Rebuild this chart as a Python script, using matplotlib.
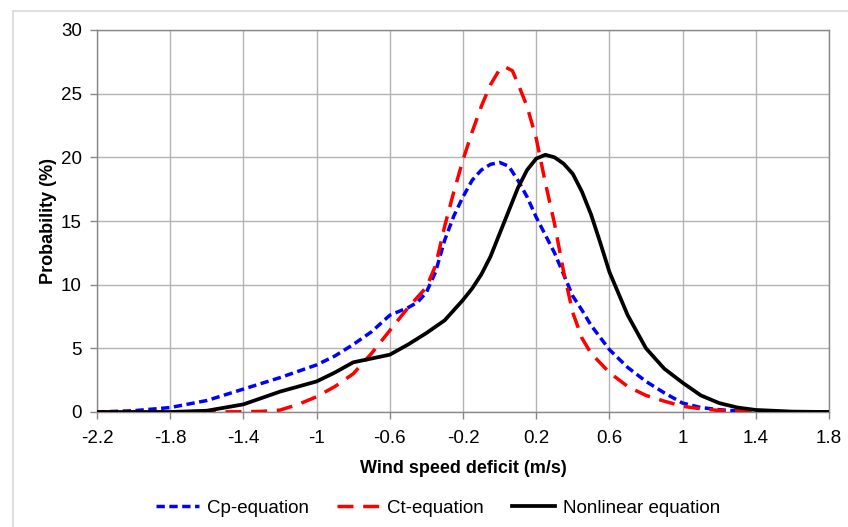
import numpy as np
import matplotlib.pyplot as plt
from matplotlib.lines import Line2D

plt.rcParams['font.family'] = ['Liberation Sans', 'DejaVu Sans']

# Cp-equation (blue)
x_cp = [-2.2, -2.0, -1.8, -1.6, -1.4, -1.2, -1.0, -0.9, -0.8, -0.7, -0.6, -0.5, -0.45, -0.4, -0.35, -0.3, -0.25,
        -0.2, -0.15, -0.1, -0.05, 0.0, 0.05, 0.1, 0.15, 0.2, 0.25, 0.3, 0.35, 0.4, 0.45, 0.5, 0.6, 0.7,
        0.8, 0.9, 1.0, 1.1, 1.2, 1.3, 1.4, 1.6, 1.8]
y_cp = [0.0, 0.1, 0.35, 0.9, 1.8, 2.7, 3.7, 4.4, 5.3, 6.3, 7.6, 8.2, 8.6, 9.4, 11.0, 13.5, 15.4,
        16.9, 18.2, 19.0, 19.45, 19.6, 19.3, 18.2, 16.9, 15.3, 13.9, 12.5, 10.8, 9.1, 8.0, 6.8, 4.9, 3.5,
        2.4, 1.5, 0.7, 0.35, 0.18, 0.08, 0.04, 0.01, 0.0]

# Ct-equation (red)
x_ct = [-2.2, -1.8, -1.6, -1.4, -1.3, -1.2, -1.1, -1.0, -0.9, -0.8, -0.7, -0.6, -0.5, -0.4, -0.35, -0.3,
        -0.25, -0.2, -0.15, -0.1, -0.05, 0.0, 0.03, 0.07, 0.1, 0.15, 0.2, 0.25, 0.3, 0.35, 0.4, 0.45,
        0.5, 0.6, 0.7, 0.8, 0.9, 1.0, 1.1, 1.2, 1.4, 1.6, 1.8]
y_ct = [0.0, 0.0, 0.0, 0.02, 0.05, 0.15, 0.6, 1.2, 2.0, 3.0, 4.6, 6.4, 8.2, 9.8, 11.5, 14.6,
        17.3, 19.8, 22.0, 24.0, 25.7, 26.9, 27.1, 26.8, 25.8, 24.0, 21.5, 18.0, 14.8, 11.0, 7.8, 5.8,
        4.6, 3.1, 2.0, 1.3, 0.85, 0.45, 0.25, 0.12, 0.03, 0.0, 0.0]

# Nonlinear equation (black)
x_nl = [-2.2, -1.8, -1.6, -1.4, -1.2, -1.0, -0.9, -0.8, -0.7, -0.6, -0.5, -0.4, -0.3, -0.2, -0.15,
        -0.1, -0.05, 0.0, 0.05, 0.1, 0.15, 0.2, 0.25, 0.3, 0.35, 0.4, 0.45, 0.5, 0.55, 0.6, 0.7, 0.8,
        0.9, 1.0, 1.1, 1.2, 1.3, 1.4, 1.6, 1.8]
y_nl = [0.0, 0.0, 0.1, 0.6, 1.6, 2.4, 3.1, 3.9, 4.2, 4.5, 5.3, 6.2, 7.2, 8.8, 9.7,
        10.8, 12.2, 14.0, 15.8, 17.6, 19.0, 19.9, 20.2, 20.0, 19.5, 18.7, 17.3, 15.5, 13.3, 11.0, 7.6, 5.0,
        3.4, 2.3, 1.3, 0.7, 0.35, 0.16, 0.03, 0.0]

xticks = np.round(np.arange(-2.2, 1.81, 0.4), 1)
xtick_labels = ['-2.2', '-1.8', '-1.4', '-1', '-0.6', '-0.2', '0.2', '0.6', '1', '1.4', '1.8']
yticks = [0, 5, 10, 15, 20, 25, 30]

fig = plt.figure(figsize=(8.48, 5.27), dpi=100)
ax = fig.add_axes([97/848, 1-412/527, (829-97)/848, (412-30)/527])

# light border of the chart area
fig.add_artist(Line2D([13/848, 1], [1-11/527, 1-11/527], color='#d9d9d9', lw=1.2, transform=fig.transFigure))
fig.add_artist(Line2D([13/848, 13/848], [0, 1-11/527], color='#d9d9d9', lw=1.2, transform=fig.transFigure))

ax.plot(x_cp, y_cp, color='#0000ff', lw=2.5, dashes=(2.4, 1.3), label='Cp-equation', zorder=3,
        dash_joinstyle='round', dash_capstyle='butt')
ax.plot(x_ct, y_ct, color='#ff0000', lw=2.5, dashes=(4.6, 2.8), label='Ct-equation', zorder=4,
        dash_joinstyle='round', dash_capstyle='butt')
ax.plot(x_nl, y_nl, color='black', lw=2.7, label='Nonlinear equation', zorder=5,
        solid_joinstyle='round')

ax.set_xlim(-2.2, 1.8)
ax.set_ylim(0, 30)
ax.set_xticks(xticks)
ax.set_xticklabels(xtick_labels)
ax.set_yticks(yticks)
ax.grid(True, color='#b3b3b3', lw=1)
ax.set_axisbelow(True)
for s in ax.spines.values():
    s.set_color('#888888')
    s.set_linewidth(1)
ax.tick_params(axis='both', labelsize=13.5, color='#888888', length=5, width=1)
ax.tick_params(axis='x', pad=8)
ax.tick_params(axis='y', pad=6)

ax.set_xlabel('Wind speed deficit (m/s)', fontsize=13, fontweight='bold', labelpad=9)
ax.set_ylabel('Probability (%)', fontsize=13, fontweight='bold', labelpad=3)

fig.legend(loc='center', bbox_to_anchor=(438/848, 1-508/527), ncol=3, frameon=False,
           fontsize=13.5, handlelength=2.3, handletextpad=0.4, columnspacing=1.5)

plt.savefig('out.png', dpi=100)
